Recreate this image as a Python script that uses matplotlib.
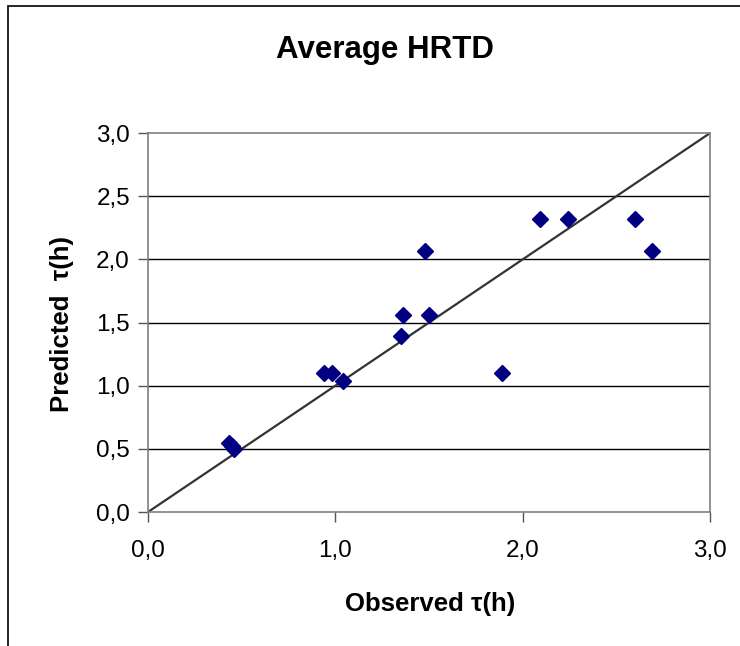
import matplotlib
matplotlib.use("Agg")
import matplotlib.pyplot as plt
from matplotlib.patches import Rectangle
from matplotlib.ticker import FuncFormatter

plt.rcParams['font.family'] = ['Liberation Sans', 'DejaVu Sans']

# observed vs predicted residence time (h)
observed = [0.43, 0.45, 0.46, 0.94, 0.98, 1.04, 1.35, 1.36, 1.48, 1.50,
            1.89, 2.09, 2.24, 2.60, 2.69]
predicted = [0.55, 0.52, 0.50, 1.10, 1.10, 1.04, 1.39, 1.56, 2.07, 1.56,
             1.10, 2.32, 2.32, 2.32, 2.07]
ticks = [0.0, 0.5, 1.0, 1.5, 2.0, 2.5, 3.0]
xticks = [0.0, 1.0, 2.0, 3.0]

fig = plt.figure(figsize=(7.4, 6.46), dpi=100)
ax = fig.add_axes([0.2, 0.2074, 0.7595, 0.5866])

# outer chart frame (runs off the right and bottom edges)
fig.patches.append(Rectangle((8 / 740, -0.05), 1.0, 1 - 6 / 646 + 0.05,
                             transform=fig.transFigure, fill=False,
                             edgecolor='black', linewidth=1.2))

for t in ticks[1:-1]:
    ax.axhline(t, color='black', linewidth=1.0, zorder=1)

ax.plot([0, 3], [0, 3], color='#333333', linewidth=1.6, zorder=2)
ax.plot(observed, predicted, linestyle='none', marker='D', markersize=8.5,
        color='#000080', zorder=3)

ax.set_xlim(0, 3)
ax.set_ylim(0, 3)
ax.set_xticks(xticks)
ax.set_yticks(ticks)
fmt = FuncFormatter(lambda v, p: f"{v:.1f}".replace('.', ','))
ax.xaxis.set_major_formatter(fmt)
ax.yaxis.set_major_formatter(fmt)
ax.tick_params(direction='out', length=7, width=1, color='#555555',
               labelsize=17.5, pad=6)
ax.tick_params(axis='x', pad=13)
for s in ax.spines.values():
    s.set_color('#808080')
    s.set_linewidth(1.2)

fig.text(385 / 740, 1 - 58 / 646, 'Average HRTD', fontsize=22.5,
         fontweight='bold', ha='center', va='baseline')
ax.set_xlabel('Observed τ(h)', fontsize=18.5, fontweight='bold', va='center')
ax.xaxis.set_label_coords(0.502, -0.243)
ax.set_ylabel('Predicted  τ(h)', fontsize=18.5, fontweight='bold', va='center')
ax.yaxis.set_label_coords(-0.153, 0.497)

fig.savefig('out.png', dpi=100)
